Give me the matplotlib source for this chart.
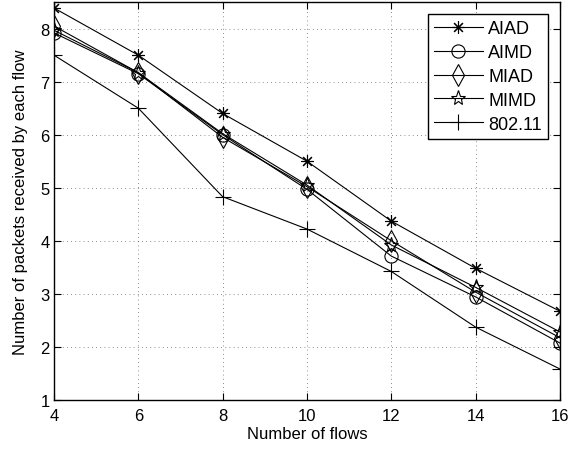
import numpy as np
import matplotlib
matplotlib.use('Agg')
import matplotlib.pyplot as plt

plt.rcParams['font.family'] = ['Liberation Sans', 'DejaVu Sans']

# --- data ---
flows = [4, 6, 8, 10, 12, 14, 16]
aiad = [8.39, 7.50, 6.40, 5.50, 4.37, 3.48, 2.67]
aimd = [7.92, 7.15, 6.00, 4.97, 3.71, 2.94, 2.07]
miad = [8.05, 7.17, 5.95, 5.02, 4.00, 3.03, 2.17]
mimd = [7.97, 7.17, 6.02, 5.05, 3.92, 3.12, 2.28]
wifi = [7.50, 6.50, 4.83, 4.22, 3.42, 2.37, 1.58]

series = [
    ('AIAD', aiad, (8, 2, 0), 9),
    ('AIMD', aimd, 'o', 9.5),
    ('MIAD', miad, 'd', 11),
    ('MIMD', mimd, '*', 11),
    ('802.11', wifi, '+', 11),
]

fig = plt.figure(figsize=(5.85, 4.52), dpi=100)
ax = fig.add_axes([0.0923, 0.1135, 0.8647, 0.8795])

for name, vals, mk, ms in series:
    ax.plot(flows, vals, color='black', linewidth=0.8, marker=mk, markersize=ms,
            markerfacecolor='none', markeredgecolor='black', markeredgewidth=0.8,
            label=name)

ax.set_xlim(4, 16)
ax.set_ylim(1, 8.5)
ax.set_xticks([4, 6, 8, 10, 12, 14, 16])
ax.set_yticks([1, 2, 3, 4, 5, 6, 7, 8])
ax.tick_params(direction='in', top=True, right=True, labelsize=12, length=5)
ax.tick_params(axis='x', pad=6)
ax.tick_params(axis='y', pad=3)
ax.grid(True, linestyle=(0, (1, 4)), color='black', linewidth=0.6, alpha=0.6)
for sp in ax.spines.values():
    sp.set_linewidth(1.0)

ax.set_xlabel('Number of flows', fontsize=12, labelpad=2)
ax.set_ylabel('Number of packets received by each flow', fontsize=12, labelpad=9)

leg = ax.legend(loc='upper right', fontsize=13, fancybox=False, edgecolor='black',
                framealpha=1, borderaxespad=0.65, handlelength=2.7, labelspacing=0.38,
                handletextpad=0.3, borderpad=0.35)
leg.get_frame().set_linewidth(1.0)

fig.savefig('out.png', dpi=100)
